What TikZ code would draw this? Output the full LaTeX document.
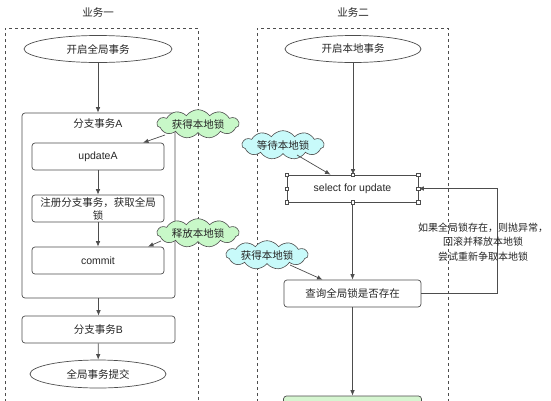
\documentclass[tikz,border=0pt]{standalone}
\usepackage{fontspec}
\setmainfont{Noto Sans CJK SC}
\newfontfamily\latf{Liberation Sans}
\usetikzlibrary{shapes.geometric,shapes.symbols,arrows.meta}
\definecolor{lnc}{HTML}{4D4D4D}
\definecolor{cgreen}{HTML}{C8F8C8}
\definecolor{ccyan}{HTML}{C8FAFA}
\definecolor{bgreen}{HTML}{D5F5D0}
\tikzset{
  every node/.style={font=\fontsize{10.5}{12}\selectfont, text=black!85},
  lane/.style={draw=lnc, dashed, line width=0.6pt},
  ell/.style={ellipse, draw=lnc, line width=0.7pt, inner sep=0pt},
  box/.style={rectangle, rounded corners=3pt, draw=lnc, line width=0.7pt, inner sep=0pt, minimum width=132pt, minimum height=27pt},
  grp/.style={rectangle, rounded corners=3pt, draw=lnc, line width=0.7pt, inner sep=0pt},
  sq/.style={rectangle, draw=lnc, line width=0.7pt, inner sep=0pt},
  cl/.style={cloud, cloud puffs=11, cloud puff arc=110, aspect=4, draw=lnc, line width=0.6pt, inner sep=0pt, minimum width=82pt, minimum height=21pt},
  hd/.style={rectangle, draw=lnc, fill=white, line width=0.5pt, minimum size=3.5pt, inner sep=0pt},
  arr/.style={draw=lnc, line width=0.7pt, -{Latex[length=5.5pt,width=4.5pt]}},
}
\begin{document}
\begin{tikzpicture}[x=1pt,y=-1pt]
\useasboundingbox (0,0) rectangle (551,400);
\clip (0,0) rectangle (551,400);
% lanes
\node (t1) at (98,12) {业务一};
\node (t2) at (353,12) {业务二};
\draw[lane] (5,420) -- (5,28) -- (198,28) -- (198,420);
\draw[lane] (257,420) -- (257,28) -- (448,28) -- (448,420);
% left lane
\node[ell, minimum width=148pt, minimum height=27pt] (g0) at (98,49) {开启全局事务};
\node[grp, minimum width=153pt, minimum height=185pt] (ga) at (98.5,205.5) {};
\node (gat) at (98,124) {分支事务{\latf A}};
\node[box] (u) at (98,156.5) {\latf updateA};
\node[box, align=center, font=\fontsize{10.5}{13}\selectfont] (r) at (98,208.5) {注册分支事务，获取全局\\锁};
\node[box] (c) at (98,260.5) {\latf commit};
\node[box, minimum width=153pt] (b) at (98.5,329.5) {分支事务{\latf B}};
\node[ell, minimum width=136pt, minimum height=28pt] (ge) at (98,374) {全局事务提交};
\draw[arr] (g0) -- (ga.north -| g0);
\draw[arr] (u) -- (r);
\draw[arr] (r) -- (c);
\draw[arr] (ga.south -| b) -- (b);
\draw[arr] (b) -- (ge);
% right lane
\node[ell, minimum width=136pt, minimum height=27pt] (l0) at (353,49) {开启本地事务};
\node[sq, minimum width=131pt, minimum height=27pt] (s) at (352.5,188.5) {\latf select for update};
\node[box, minimum width=137pt] (q) at (352.5,293.5) {查询全局锁是否存在};
\node[box, minimum width=138pt, minimum height=28pt, fill=bgreen] (ok) at (352.5,410) {};
\draw[arr] (l0) -- (s.north -| l0);
\draw[arr] (s) -- (q);
\draw[arr] (q) -- (ok);
\draw[arr] (q.east) -- ++(76,0) |- (s.east);
\node[align=center, font=\fontsize{10}{14.5}\selectfont] (lab) at (483,242) {如果全局锁存在，则抛异常，\\回滚并释放本地锁\\尝试重新争取本地锁};
% handles
\foreach \a in {north west,north,north east,west,east,south west,south,south east}
  \node[hd] at (s.\a) {};
% clouds
\node[cl, fill=cgreen] (c1) at (198,124) {获得本地锁};
\node[cl, fill=cgreen] (c2) at (198,233) {释放本地锁};
\node[cl, fill=ccyan] (c3) at (283,145) {等待本地锁};
\node[cl, fill=ccyan] (c4) at (267,255) {获得本地锁};
\coordinate (c1e) at (165,135);
\coordinate (c2e) at (161,241);
\coordinate (c3e) at (297,155);
\coordinate (c4e) at (290,265);
\draw[arr] (c1e) -- ([xshift=45pt]u.north);
\draw[arr] (c2e) -- ([xshift=50pt]c.north);
\draw[arr] (c3e) -- ([xshift=-22pt]s.north);
\draw[arr] (c4e) -- ([xshift=-30pt]q.north);
\end{tikzpicture}
\end{document}
